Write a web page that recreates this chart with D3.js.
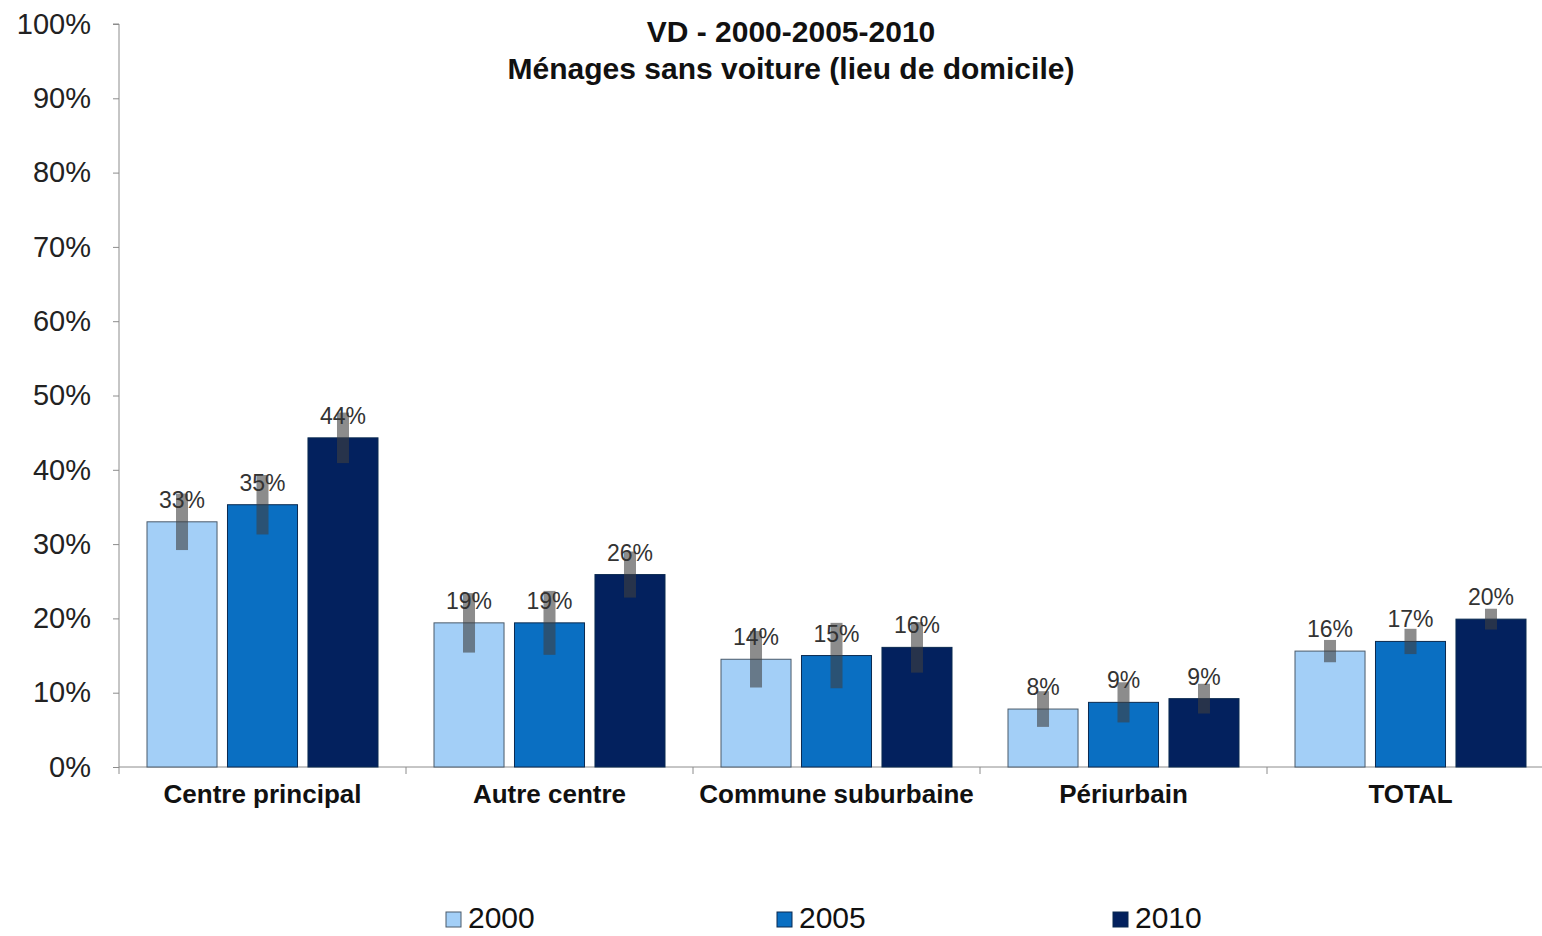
<!DOCTYPE html>
<html><head><meta charset="utf-8">
<script src="https://cdn.jsdelivr.net/npm/d3@7/dist/d3.min.js"></script>
<style>body{margin:0;background:#fff;}svg{display:block;font-family:"Liberation Sans",Arial,sans-serif;}</style>
</head><body>
<svg id="chart" width="1542" height="936"></svg>
<script>
const categories = ["Centre principal", "Autre centre", "Commune suburbaine", "Périurbain", "TOTAL"];
const seriesNames = ["2000", "2005", "2010"];
const values2000 = [33.0, 19.4, 14.5, 7.8, 15.6];
const values2005 = [35.3, 19.4, 15.0, 8.7, 16.9];
const values2010 = [44.3, 25.9, 16.1, 9.2, 19.9];
const errors2000 = [3.8, 4.0, 3.8, 2.4, 1.5];
const errors2005 = [4.0, 4.3, 4.4, 2.7, 1.7];
const errors2010 = [3.4, 3.1, 3.4, 2.0, 1.4];
const labels2000 = ["33%", "19%", "14%", "8%", "16%"];
const labels2005 = ["35%", "19%", "15%", "9%", "17%"];
const labels2010 = ["44%", "26%", "16%", "9%", "20%"];
const yTicks = [0, 10, 20, 30, 40, 50, 60, 70, 80, 90, 100];
const titleLines = ["VD - 2000-2005-2010", "Ménages sans voiture (lieu de domicile)"];

const colors = ["#a3cff7", "#0a6fc2", "#03215e"];
const series = [
  {name: seriesNames[0], values: values2000, errors: errors2000, labels: labels2000},
  {name: seriesNames[1], values: values2005, errors: errors2005, labels: labels2005},
  {name: seriesNames[2], values: values2010, errors: errors2010, labels: labels2010}
];

const svg = d3.select("#chart");
const x0 = 119, x1 = 1554, yTop = 24, yBot = 767;

const x = d3.scaleBand().domain(categories).range([x0, x1]).paddingInner(0).paddingOuter(0);
const xs = d3.scaleBand().domain(seriesNames).range([28, x.bandwidth() - 28]).paddingInner(0.13);
const y = d3.scaleLinear().domain([0, 100]).range([yBot, yTop]);

// Y axis
const yAxis = d3.axisLeft(y).tickValues(yTicks).tickFormat(d => d + "%").tickSize(6).tickPadding(22);
const gy = svg.append("g").attr("transform", `translate(${x0},0)`).call(yAxis);
gy.select(".domain").attr("stroke", "#8c8c8c").attr("d", `M-6,${yTop}H0V${yBot}`);
gy.selectAll(".tick line").attr("stroke", "#8c8c8c");
gy.selectAll(".tick text").attr("font-size", 29).attr("fill", "#222").attr("font-family", "Liberation Sans, Arial, sans-serif");

// X axis
const xAxis = d3.axisBottom(x).tickSize(0).tickPadding(18);
const gx = svg.append("g").attr("transform", `translate(0,${yBot})`).call(xAxis);
gx.select(".domain").attr("stroke", "#8c8c8c").attr("d", `M${x0},0H${x1}`);
gx.selectAll(".tick text").attr("font-size", 26).attr("font-weight", "bold").attr("fill", "#111").attr("font-family", "Liberation Sans, Arial, sans-serif");
// category separator ticks
gx.selectAll(".sep").data(categories).enter().append("line")
  .attr("x1", d => x(d)).attr("x2", d => x(d)).attr("y1", 0).attr("y2", 7)
  .attr("stroke", "#8c8c8c");

// Bars
series.forEach((s, si) => {
  const g = svg.append("g");
  g.selectAll("rect.bar").data(categories).enter().append("rect")
    .attr("class", "bar")
    .attr("x", d => x(d) + xs(s.name))
    .attr("width", xs.bandwidth())
    .attr("y", (d, i) => y(s.values[i]))
    .attr("height", (d, i) => y(0) - y(s.values[i]))
    .attr("fill", colors[si])
    .attr("stroke", si === 0 ? "#4a5a6a" : "#0a2a50")
    .attr("stroke-width", 1);
});

// Error bars (thick translucent gray)
series.forEach((s, si) => {
  svg.append("g").selectAll("rect.err").data(categories).enter().append("rect")
    .attr("x", d => x(d) + xs(s.name) + xs.bandwidth() / 2 - 6)
    .attr("width", 12)
    .attr("y", (d, i) => y(s.values[i] + s.errors[i]))
    .attr("height", (d, i) => y(s.values[i] - s.errors[i]) - y(s.values[i] + s.errors[i]))
    .attr("fill", "#404040").attr("fill-opacity", 0.6);
});

// Value labels
series.forEach((s, si) => {
  svg.append("g").selectAll("text").data(categories).enter().append("text")
    .attr("x", d => x(d) + xs(s.name) + xs.bandwidth() / 2)
    .attr("y", (d, i) => y(s.values[i]) - 14)
    .attr("text-anchor", "middle")
    .attr("font-size", 23).attr("fill", "#333")
    .text((d, i) => s.labels[i]);
});

// Title
svg.append("g").selectAll("text").data(titleLines).enter().append("text")
  .attr("x", 791).attr("y", (d, i) => 42 + i * 37)
  .attr("text-anchor", "middle").attr("font-size", 30).attr("font-weight", "bold").attr("fill", "#111")
  .text(d => d);

// Legend
const legendX = [446, 777, 1113];
const lg = svg.append("g").selectAll("g").data(series).enter().append("g")
  .attr("transform", (d, i) => `translate(${legendX[i]},920)`);
lg.append("rect").attr("x", 0).attr("y", -8).attr("width", 15).attr("height", 15)
  .attr("fill", (d, i) => colors[i]).attr("stroke", (d, i) => i === 0 ? "#4a5a6a" : "#0a2a50");
lg.append("text").attr("x", 22).attr("y", 8).attr("font-size", 30).attr("fill", "#111").text(d => d.name);
</script>
</body></html>
